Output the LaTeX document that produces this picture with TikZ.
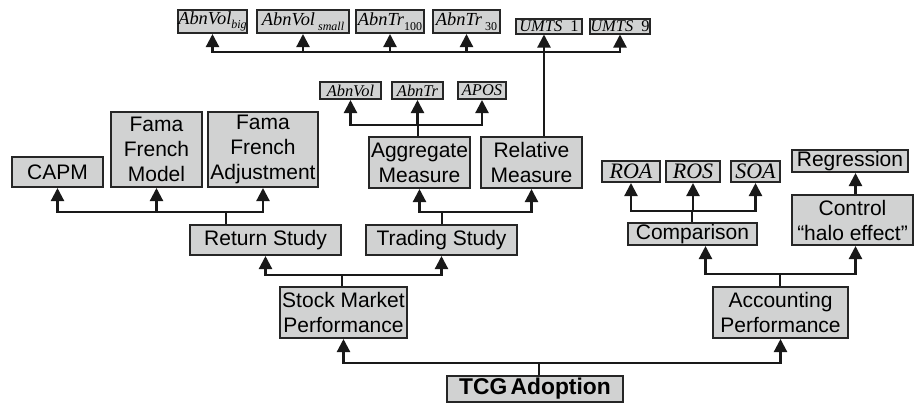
\documentclass[tikz,border=0pt]{standalone}
\usepackage{fontspec}
\setmainfont{Liberation Sans}
\newfontfamily\tmsfont{Liberation Serif}
\usepackage{xcolor}
\usetikzlibrary{arrows.meta}
\definecolor{boxfill}{RGB}{209,210,210}
\newcommand{\lowsub}[1]{\raisebox{-0.55ex}{\fontsize{6}{6.5}\selectfont #1}}

\begin{document}
\begin{tikzpicture}[
  x=0.5pt, y=-0.5pt,
  box/.style={draw=black!85, fill=boxfill, line width=1pt, inner sep=0pt,
    align=center, font=\fontsize{10.5}{12.5}\selectfont},
  var/.style={box, font=\tmsfont\itshape\fontsize{9.2}{10}\selectfont},
  smallvar/.style={box, font=\tmsfont\itshape\fontsize{8.2}{8.5}\selectfont},
  ratio/.style={box, font=\tmsfont\itshape\fontsize{11}{12}\selectfont},
  link/.style={line width=1.1pt, black!90},
  arr/.style={link, -{Triangle[length=6.5pt, width=6.5pt]}}
]
  \useasboundingbox (0,0) rectangle (921,404);

  % top row of measures
  \node[var, minimum width=34.5pt, minimum height=11.5pt] (avbig) at (212.5,21.5) {AbnVol\lowsub{big}};
  \node[var, minimum width=46pt, minimum height=11.5pt] (avsmall) at (303,21.5) {AbnVol\,\lowsub{small}};
  \node[var, minimum width=34pt, minimum height=11.5pt] (atrh) at (390,21.5) {AbnTr\lowsub{\upshape 100}};
  \node[var, minimum width=33.5pt, minimum height=11.5pt] (atrt) at (466.5,21.5) {AbnTr\,\lowsub{\upshape 30}};
  \node[var, minimum width=33pt, minimum height=7.5pt, font=\tmsfont\itshape\fontsize{8.2}{8.5}\selectfont] (umtsa) at (549,26) {UMTS\enspace{\upshape 1}};
  \node[var, minimum width=30pt, minimum height=7.5pt, font=\tmsfont\itshape\fontsize{8.2}{8.5}\selectfont] (umtsb) at (620,26) {UMTS\enspace{\upshape 9}};

  % aggregate measures
  \node[smallvar, minimum width=30.5pt, minimum height=8.5pt] (sav) at (350.5,90.5) {AbnVol};
  \node[smallvar, minimum width=25.5pt, minimum height=8.5pt] (satr) at (417.5,90.5) {AbnTr};
  \node[smallvar, minimum width=24pt, minimum height=8.5pt] (apos) at (482,90.5) {APOS};

  \node[box, minimum width=50.5pt, minimum height=25.5pt] (agg) at (419.5,162.5) {Aggregate\\Measure};
  \node[box, minimum width=50.5pt, minimum height=25.5pt] (rel) at (531.5,162.5) {Relative\\Measure};

  % return models
  \node[box, minimum width=45.5pt, minimum height=15pt] (capm) at (57.5,172) {CAPM};
  \node[box, minimum width=45.5pt, minimum height=37.5pt] (ffm) at (156.5,149.5) {Fama\\French\\Model};
  \node[box, minimum width=55pt, minimum height=37.5pt] (ffa) at (263,149.5) {Fama\\French\\Adjustment};

  \node[box, minimum width=75.5pt, minimum height=15pt] (ret) at (265.5,240) {Return Study};
  \node[box, minimum width=75.5pt, minimum height=15pt] (trd) at (441.5,240) {Trading Study};
  \node[box, minimum width=63.5pt, minimum height=25.5pt] (smp) at (343.5,312.5) {Stock Market\\Performance};

  % accounting side
  \node[ratio, minimum width=29pt, minimum height=10.5pt] (roa) at (631,171.5) {ROA};
  \node[ratio, minimum width=27pt, minimum height=10.5pt] (ros) at (693,171.5) {ROS};
  \node[ratio, minimum width=24.5pt, minimum height=10.5pt] (soa) at (755.5,171.5) {SOA};
  \node[box, minimum width=58pt, minimum height=11pt] (reg) at (850,161) {Regression};
  \node[box, minimum width=64.5pt, minimum height=11pt] (cmp) at (692.5,234) {Comparison};
  \node[box, minimum width=60.5pt, minimum height=25pt] (ctl) at (852.5,220) {Control\\“halo effect”};
  \node[box, minimum width=67.5pt, minimum height=25.5pt] (acc) at (780.5,312.5) {Accounting\\Performance};

  \node[box, minimum width=88pt, minimum height=13pt, font=\bfseries\fontsize{11.4}{12}\selectfont] (tcg) at (535,389) {TCG\hspace{0.15em}Adoption};

  % junction points of the connectors
  \coordinate (relbar) at (544,52);
  \coordinate (aggbar) at (418,125);
  \coordinate (retbar) at (226,212);
  \coordinate (trdbar) at (442,212);
  \coordinate (cmpbar) at (692,211);
  \coordinate (smpbar) at (342,275);
  \coordinate (accbar) at (780,274);
  \coordinate (tcgbar) at (539,363);

  \draw[link] (rel.north -| relbar) -- (relbar);
  \foreach \c in {avbig,avsmall,atrh,atrt,umtsb}
    \draw[arr] (relbar) -| (\c.south);
  \draw[arr] (relbar) -- (relbar |- umtsa.south);

  \draw[link] (agg.north -| aggbar) -- (aggbar);
  \foreach \c in {sav,satr,apos}
    \draw[arr] (aggbar) -| (\c.south);

  \draw[link] (ret.north -| retbar) -- (retbar);
  \foreach \c in {capm,ffm,ffa}
    \draw[arr] (retbar) -| (\c.south);

  \draw[link] (trd.north -| trdbar) -- (trdbar);
  \foreach \c in {agg,rel}
    \draw[arr] (trdbar) -| (\c.south);

  \draw[link] (smp.north -| smpbar) -- (smpbar);
  \foreach \c in {ret,trd}
    \draw[arr] (smpbar) -| (\c.south);

  \draw[link] (cmp.north -| cmpbar) -- (cmpbar);
  \foreach \c in {roa,ros,soa}
    \draw[arr] (cmpbar) -| (\c.south);

  \draw[link] (acc.north -| accbar) -- (accbar);
  \draw[arr] (accbar) -| ([xshift=6.5pt]cmp.south);
  \draw[arr] (accbar) -| ([xshift=1.5pt]ctl.south);
  \draw[arr] ([xshift=1.5pt]ctl.north) -- ([xshift=1.5pt]ctl.north |- reg.south);

  \draw[link] (tcg.north -| tcgbar) -- (tcgbar);
  \foreach \c in {smp,acc}
    \draw[arr] (tcgbar) -| (\c.south);
\end{tikzpicture}
\end{document}
